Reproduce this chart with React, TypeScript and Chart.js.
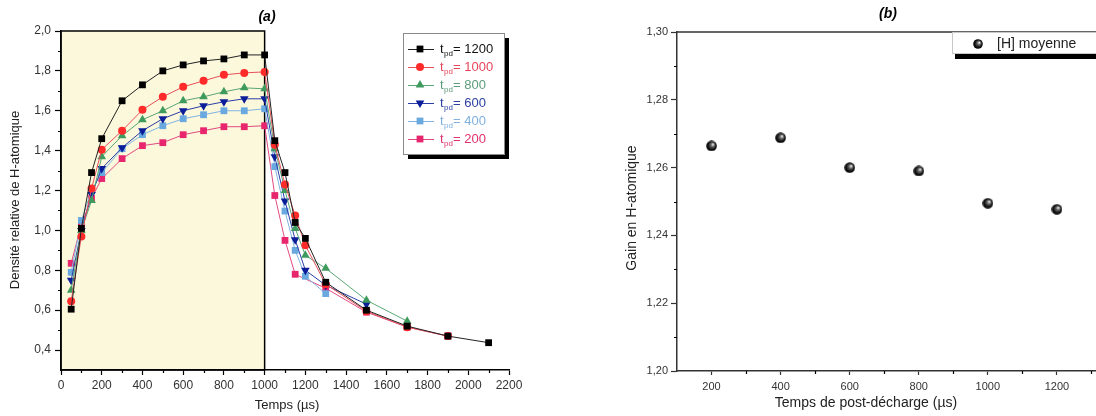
import React, { useEffect, useRef } from 'react';
import { Chart, registerables } from 'chart.js';

Chart.register(...registerables);

const FONT = "'Liberation Sans', Arial, Helvetica, sans-serif";

// ---------- Panel (a) data ----------
const riseTimes = [50, 100, 150, 200, 300, 400, 500, 600, 700, 800, 900, 1000];

const decayTimes1200 = [1050, 1100, 1150, 1200, 1300, 1500, 1700, 1900, 2100];
const decayTimes1000 = [1050, 1100, 1150, 1200, 1300, 1500, 1700, 1900];
const decayTimes800 = [1050, 1100, 1150, 1200, 1300, 1500, 1700];
const decayTimes600 = [1050, 1100, 1150, 1200, 1300, 1500];
const decayTimes400 = [1050, 1100, 1150, 1200, 1300];
const decayTimes200 = [1050, 1100, 1150, 1300, 1500, 1700, 1900];

const rise1200 = [0.605, 1.01, 1.29, 1.46, 1.65, 1.73, 1.8, 1.83, 1.85, 1.86, 1.88, 1.88];
const decay1200 = [1.45, 1.29, 1.04, 0.96, 0.74, 0.6, 0.52, 0.47, 0.437];

const rise1000 = [0.645, 0.97, 1.21, 1.405, 1.5, 1.605, 1.67, 1.72, 1.75, 1.78, 1.79, 1.795];
const decay1000 = [1.43, 1.23, 1.075, 0.925, 0.73, 0.595, 0.515, 0.47];

const rise800 = [0.7, 1.0, 1.15, 1.37, 1.475, 1.555, 1.6, 1.65, 1.67, 1.695, 1.715, 1.71];
const decay800 = [1.41, 1.2, 1.01, 0.875, 0.81, 0.65, 0.545];

const rise600 = [0.75, 1.0, 1.18, 1.31, 1.415, 1.5, 1.56, 1.6, 1.625, 1.645, 1.66, 1.66];
const decay600 = [1.37, 1.147, 0.953, 0.8, 0.725, 0.63];

const rise400 = [0.79, 1.05, 1.2, 1.29, 1.41, 1.48, 1.525, 1.56, 1.58, 1.6, 1.6, 1.61];
const decay400 = [1.32, 1.097, 0.9, 0.77, 0.683];

const rise200 = [0.835, 1.03, 1.16, 1.26, 1.36, 1.425, 1.44, 1.48, 1.5, 1.52, 1.52, 1.525];
const decay200 = [1.175, 0.95, 0.78, 0.71, 0.59, 0.515, 0.47];

const seriesLabels = ['1200', '1000', '800', '600', '400', '200'];

const xTicksA = [0, 200, 400, 600, 800, 1000, 1200, 1400, 1600, 1800, 2000, 2200];
const xMinorA = [100, 300, 500, 700, 900, 1100, 1300, 1500, 1700, 1900, 2100];
const yTicksA = [0.4, 0.6, 0.8, 1.0, 1.2, 1.4, 1.6, 1.8, 2.0];
const yMinorA = [0.5, 0.7, 0.9, 1.1, 1.3, 1.5, 1.7, 1.9];

// ---------- Panel (b) data ----------
const postTimes = [200, 400, 600, 800, 1000, 1200];
const gainValues = [1.2664, 1.2688, 1.26, 1.259, 1.2495, 1.2477];
const xTicksB = [200, 400, 600, 800, 1000, 1200, 1400];
const xMinorB = [300, 500, 700, 900, 1100, 1300];
const yTicksB = [1.2, 1.22, 1.24, 1.26, 1.28, 1.3];
const yMinorB = [1.21, 1.23, 1.25, 1.27, 1.29];

type Shape = 'rect' | 'circle' | 'triangle' | 'triangleDown';
const seriesStyle: { color: string; line: string; text: string; shape: Shape; radius: number }[] = [
  { color: '#000000', line: '#222222', text: '#111111', shape: 'rect', radius: 4.8 },
  { color: '#ff2b2b', line: '#e8505a', text: '#e8445a', shape: 'circle', radius: 4 },
  { color: '#3f9a5e', line: '#5aa676', text: '#5c9c7a', shape: 'triangle', radius: 5 },
  { color: '#0b1d98', line: '#2a3ea6', text: '#2a3fa0', shape: 'triangleDown', radius: 5 },
  { color: '#6aa8e0', line: '#80b4e4', text: '#7fb0e0', shape: 'rect', radius: 4.8 },
  { color: '#e8266e', line: '#e04a80', text: '#e0306e', shape: 'rect', radius: 4.8 },
];

const seriesTimes = [
  [...riseTimes, ...decayTimes1200],
  [...riseTimes, ...decayTimes1000],
  [...riseTimes, ...decayTimes800],
  [...riseTimes, ...decayTimes600],
  [...riseTimes, ...decayTimes400],
  [...riseTimes, ...decayTimes200],
];
const seriesValues = [
  [...rise1200, ...decay1200],
  [...rise1000, ...decay1000],
  [...rise800, ...decay800],
  [...rise600, ...decay600],
  [...rise400, ...decay400],
  [...rise200, ...decay200],
];

function drawShape(ctx: CanvasRenderingContext2D, shape: Shape, x: number, y: number, r: number, color: string) {
  ctx.save();
  ctx.fillStyle = color;
  ctx.beginPath();
  if (shape === 'rect') {
    const s = Math.SQRT1_2 * r;
    ctx.rect(x - s, y - s, 2 * s, 2 * s);
  } else if (shape === 'circle') {
    ctx.arc(x, y, r, 0, Math.PI * 2);
  } else {
    const sign = shape === 'triangle' ? 1 : -1;
    for (let k = 0; k < 3; k++) {
      const a = (k * 2 * Math.PI) / 3;
      const px = x + Math.sin(a) * r;
      const py = y - sign * Math.cos(a) * r;
      if (k === 0) ctx.moveTo(px, py);
      else ctx.lineTo(px, py);
    }
    ctx.closePath();
  }
  ctx.fill();
  ctx.restore();
}

function drawMinorTicks(chart: any, xs: number[], ys: number[], len: number) {
  const ctx: CanvasRenderingContext2D = chart.ctx;
  const xs_ = chart.scales.x;
  const ys_ = chart.scales.y;
  const area = chart.chartArea;
  ctx.save();
  ctx.strokeStyle = '#000';
  ctx.lineWidth = 1.2;
  ctx.beginPath();
  xs.forEach((v) => {
    const px = Math.round(xs_.getPixelForValue(v)) + 0.5;
    if (px > area.right + 1) return;
    ctx.moveTo(px, area.bottom);
    ctx.lineTo(px, area.bottom + len);
  });
  ys.forEach((v) => {
    const py = Math.round(ys_.getPixelForValue(v)) + 0.5;
    ctx.moveTo(area.left, py);
    ctx.lineTo(area.left - len, py);
  });
  ctx.stroke();
  ctx.restore();
}

function drawText(ctx: CanvasRenderingContext2D, text: string, x: number, y: number, font: string, color: string, rot = 0, align: CanvasTextAlign = 'center') {
  ctx.save();
  ctx.translate(x, y);
  if (rot) ctx.rotate(rot);
  ctx.font = font;
  ctx.fillStyle = color;
  ctx.textAlign = align;
  ctx.textBaseline = 'middle';
  ctx.fillText(text, 0, 0);
  ctx.restore();
}

function makeSphere(d: number) {
  const c = document.createElement('canvas');
  c.width = d;
  c.height = d;
  const g = c.getContext('2d')!;
  const r = d / 2;
  const grad = g.createRadialGradient(r * 1.3, r * 0.7, r * 0.05, r, r, r);
  grad.addColorStop(0, '#f4f4f4');
  grad.addColorStop(0.3, '#6a6a6a');
  grad.addColorStop(0.7, '#111');
  grad.addColorStop(1, '#000');
  g.fillStyle = grad;
  g.beginPath();
  g.arc(r, r, r - 0.2, 0, Math.PI * 2);
  g.fill();
  return c;
}

const fmt1 = (v: number) => v.toFixed(1).replace('.', ',');
const fmt2 = (v: number) => v.toFixed(2).replace('.', ',');

export default function App() {
  const refA = useRef<HTMLCanvasElement>(null);
  const refB = useRef<HTMLCanvasElement>(null);

  useEffect(() => {
    // ----- Chart (a)
    const decorA = {
      id: 'decorA',
      beforeDraw(chart: any) {
        const ctx: CanvasRenderingContext2D = chart.ctx;
        const a = chart.chartArea;
        const x1 = chart.scales.x.getPixelForValue(1000);
        ctx.save();
        ctx.fillStyle = '#fcf8dc';
        ctx.fillRect(a.left, a.top, x1 - a.left, a.bottom - a.top);
        ctx.restore();
      },
      beforeDatasetsDraw(chart: any) {
        const ctx: CanvasRenderingContext2D = chart.ctx;
        const a = chart.chartArea;
        const x1 = chart.scales.x.getPixelForValue(1000);
        ctx.save();
        ctx.strokeStyle = '#000';
        ctx.lineWidth = 1.5;
        ctx.strokeRect(a.left, a.top, x1 - a.left, a.bottom - a.top);
        ctx.restore();
        drawMinorTicks(chart, xMinorA, yMinorA, 3);
      },
      afterDraw(chart: any) {
        const ctx: CanvasRenderingContext2D = chart.ctx;
        drawText(ctx, '(a)', 267, 17, `italic bold 14px ${FONT}`, '#000');
        drawText(ctx, 'Temps (µs)', 287, 405, `13px ${FONT}`, '#222');
        drawText(ctx, 'Densité relative de H-atomique', 15, 200, `13px ${FONT}`, '#222', -Math.PI / 2);
        // legend
        const bx = 403, by = 33, bw = 101, bh = 121;
        ctx.save();
        ctx.fillStyle = '#000';
        ctx.fillRect(bx + 5, by + 5, bw, bh);
        ctx.fillStyle = '#fff';
        ctx.fillRect(bx, by, bw, bh);
        ctx.strokeStyle = '#8a8a8a';
        ctx.lineWidth = 1;
        ctx.strokeRect(bx + 0.5, by + 0.5, bw, bh);
        ctx.restore();
        seriesLabels.forEach((lab, i) => {
          const st = seriesStyle[i];
          const y = 49 + i * 18;
          ctx.save();
          ctx.strokeStyle = st.line;
          ctx.lineWidth = 1;
          ctx.beginPath();
          ctx.moveTo(408, y + 0.5);
          ctx.lineTo(434, y + 0.5);
          ctx.stroke();
          ctx.restore();
          drawShape(ctx, st.shape, 420, y, st.radius, st.color);
          ctx.save();
          ctx.fillStyle = st.text;
          ctx.textBaseline = 'middle';
          ctx.textAlign = 'left';
          ctx.font = `13px ${FONT}`;
          ctx.fillText('t', 440, y);
          ctx.font = `8px ${FONT}`;
          ctx.fillText('pd', 444, y + 5);
          ctx.font = `13px ${FONT}`;
          ctx.fillText('= ' + lab, 453, y);
          ctx.restore();
        });
      },
    };

    const datasetsA = seriesLabels.map((lab, i) => {
      const st = seriesStyle[i];
      return {
        label: 't_pd = ' + lab,
        data: seriesTimes[i].map((t, k) => ({ x: t, y: seriesValues[i][k] })),
        borderColor: st.line,
        backgroundColor: st.color,
        borderWidth: 1,
        pointBackgroundColor: st.color,
        pointBorderColor: st.color,
        pointBorderWidth: 0,
        pointRadius: st.radius,
        pointStyle: st.shape === 'triangleDown' ? 'triangle' : st.shape,
        pointRotation: st.shape === 'triangleDown' ? 180 : 0,
        tension: 0,
        showLine: true,
        fill: false,
      };
    });

    const chartA = new Chart(refA.current!, {
      type: 'scatter',
      data: { datasets: datasetsA as any },
      options: {
        responsive: false,
        animation: false,
        layout: { padding: { top: 31, right: 51, bottom: 0, left: 0 } },
        plugins: { legend: { display: false }, tooltip: { enabled: false }, title: { display: false } },
        scales: {
          x: {
            type: 'linear',
            min: 0,
            max: 2200,
            afterBuildTicks: (s: any) => {
              s.ticks = xTicksA.map((v) => ({ value: v }));
            },
            afterFit: (s: any) => {
              s.height = 46;
            },
            ticks: { font: { family: FONT, size: 12 }, color: '#333', padding: 3, maxRotation: 0, autoSkip: false, callback: (v: any) => String(v) },
            grid: { drawOnChartArea: false, drawTicks: true, tickLength: 5, tickColor: '#000', tickWidth: 1.2 },
            border: { display: true, color: '#000', width: 1.5 },
          },
          y: {
            type: 'linear',
            min: 0.3,
            max: 2.0,
            afterBuildTicks: (s: any) => {
              s.ticks = yTicksA.map((v) => ({ value: v }));
            },
            afterFit: (s: any) => {
              s.width = 61;
            },
            ticks: { font: { family: FONT, size: 12 }, color: '#333', padding: 4, callback: (v: any) => fmt1(Number(v)) },
            grid: { drawOnChartArea: false, drawTicks: true, tickLength: 6, tickColor: '#000', tickWidth: 1.2 },
            border: { display: true, color: '#000', width: 1.5 },
          },
        },
      } as any,
      plugins: [decorA as any],
    });

    // ----- Chart (b)
    const sphere = makeSphere(11);
    const sphereSmall = makeSphere(10);
    const OX = 560;
    const decorB = {
      id: 'decorB',
      beforeDatasetsDraw(chart: any) {
        const ctx: CanvasRenderingContext2D = chart.ctx;
        const a = chart.chartArea;
        ctx.save();
        ctx.strokeStyle = '#333';
        ctx.lineWidth = 1.5;
        ctx.beginPath();
        ctx.moveTo(a.left, a.top);
        ctx.lineTo(chart.width, a.top);
        ctx.stroke();
        ctx.restore();
        drawMinorTicks(chart, xMinorB, yMinorB, 3);
      },
      afterDraw(chart: any) {
        const ctx: CanvasRenderingContext2D = chart.ctx;
        drawText(ctx, '(b)', 888 - OX, 14, `italic bold 14px ${FONT}`, '#000');
        drawText(ctx, 'Temps de post-décharge (µs)', 866 - OX, 403, `14px ${FONT}`, '#222');
        drawText(ctx, 'Gain en H-atomique', 632 - OX, 208, `14px ${FONT}`, '#222', -Math.PI / 2);
        // legend
        const bx = 952 - OX, by = 32, bw = 200, bh = 21;
        ctx.save();
        ctx.fillStyle = '#000';
        ctx.fillRect(bx + 3, by + bh, bw, 6);
        ctx.fillStyle = '#fff';
        ctx.fillRect(bx, by, bw, bh);
        ctx.strokeStyle = '#c8c8c8';
        ctx.lineWidth = 1;
        ctx.strokeRect(bx + 0.5, by + 0.5, bw, bh);
        ctx.restore();
        ctx.drawImage(sphereSmall, 978 - OX - 5, 44 - 5);
        drawText(ctx, '[H] moyenne', 997 - OX, 44, `14px ${FONT}`, '#222', 0, 'left');
      },
    };

    const chartB = new Chart(refB.current!, {
      type: 'scatter',
      data: {
        datasets: [
          {
            label: '[H] moyenne',
            data: postTimes.map((t, k) => ({ x: t, y: gainValues[k] })),
            pointStyle: sphere as any,
            pointRadius: 5.5,
            showLine: false,
          },
        ],
      },
      options: {
        responsive: false,
        animation: false,
        layout: { padding: { top: 32, right: 34, bottom: 0, left: 0 } },
        plugins: { legend: { display: false }, tooltip: { enabled: false }, title: { display: false } },
        scales: {
          x: {
            type: 'linear',
            min: 100,
            max: 1400,
            afterBuildTicks: (s: any) => {
              s.ticks = xTicksB.map((v) => ({ value: v }));
            },
            afterFit: (s: any) => {
              s.height = 45;
            },
            ticks: { font: { family: FONT, size: 11 }, color: '#333', padding: 5, maxRotation: 0, autoSkip: false, callback: (v: any) => String(v) },
            grid: { drawOnChartArea: false, drawTicks: true, tickLength: 4, tickColor: '#333', tickWidth: 1.2 },
            border: { display: true, color: '#333', width: 1.5 },
          },
          y: {
            type: 'linear',
            min: 1.2,
            max: 1.3,
            afterBuildTicks: (s: any) => {
              s.ticks = yTicksB.map((v) => ({ value: v }));
            },
            afterFit: (s: any) => {
              s.width = 117;
            },
            ticks: { font: { family: FONT, size: 11 }, color: '#333', padding: 3, callback: (v: any) => fmt2(Number(v)) },
            grid: { drawOnChartArea: false, drawTicks: true, tickLength: 6, tickColor: '#333', tickWidth: 1.2 },
            border: { display: true, color: '#333', width: 1.5 },
          },
        },
      } as any,
      plugins: [decorB as any],
    });

    return () => {
      chartA.destroy();
      chartB.destroy();
    };
  }, []);

  return (
    <div style={{ position: 'fixed', left: 0, top: 0, width: 1096, height: 416, overflow: 'hidden', background: '#fff' }}>
      <canvas ref={refA} width={560} height={416} style={{ position: 'absolute', left: 0, top: 0 }} />
      <canvas ref={refB} width={600} height={416} style={{ position: 'absolute', left: 560, top: 0 }} />
    </div>
  );
}
